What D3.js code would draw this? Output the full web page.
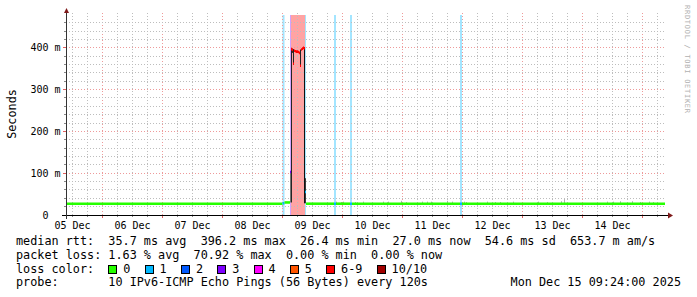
<!DOCTYPE html>
<html>
<head>
<meta charset="utf-8">
<script src="https://cdn.jsdelivr.net/npm/d3@7"></script>
<style>
  body { margin: 0; background: #fff; }
  svg { display: block; }
  text { font-family: 'DejaVu Sans Mono', monospace; white-space: pre; }
</style>
</head>
<body>
<div id="graphic"></div>
<script>
// Time window of the graph
const timeRange = ["2025-12-05 09:24", "2025-12-15 09:24"];

// Median rtt steps: each value holds until the next time (ms, lost pings out of 10)
const rttTimes = [
    "2025-12-05 09:24", "2025-12-09 00:00", "2025-12-09 00:48", "2025-12-09 03:00",
    "2025-12-09 03:24", "2025-12-09 03:48", "2025-12-09 04:12", "2025-12-09 04:36",
    "2025-12-09 05:00", "2025-12-09 05:24", "2025-12-09 05:48", "2025-12-09 06:12",
    "2025-12-09 06:36", "2025-12-09 07:00", "2025-12-09 07:24", "2025-12-09 07:48",
    "2025-12-09 08:12", "2025-12-09 08:36", "2025-12-09 09:00", "2025-12-09 09:24",
    "2025-12-09 20:36", "2025-12-09 21:24", "2025-12-10 03:00", "2025-12-10 03:48",
    "2025-12-11 23:00", "2025-12-11 23:48", "2025-12-15 09:00"
];
const rttMedian = [27, 28, 30, 103, 397, 395, 362, 393, 392, 391, 391, 390, 388, 357,
                   396, 398, 400, 399, 55, 27, 27, 27, 27, 27, 27, 27, 27];
const rttLoss   = [0, 1, 0, 3, 7, 7, 7, 7, 7, 7, 7, 7, 7, 7, 7, 7, 7, 7, 1, 0, 1, 0, 1, 0, 1, 0, 0];

// Smoke columns (24 min each): spread of the answered pings (ms)
const smokeTimes = [
    "2025-12-09 03:00", "2025-12-09 03:24", "2025-12-09 03:48", "2025-12-09 04:12",
    "2025-12-09 07:00", "2025-12-09 08:36", "2025-12-09 09:00",
    "2025-12-09 21:24", "2025-12-09 23:24", "2025-12-10 00:12", "2025-12-10 05:00",
    "2025-12-10 08:12", "2025-12-10 16:12", "2025-12-10 18:12", "2025-12-10 23:24",
    "2025-12-11 01:24", "2025-12-11 07:48", "2025-12-11 09:48", "2025-12-11 11:24",
    "2025-12-11 17:48", "2025-12-11 19:48", "2025-12-12 00:36", "2025-12-12 01:24",
    "2025-12-12 09:48", "2025-12-12 13:00", "2025-12-12 15:00", "2025-12-12 20:12",
    "2025-12-13 06:12", "2025-12-13 09:48", "2025-12-13 15:24", "2025-12-13 16:36",
    "2025-12-14 09:48", "2025-12-14 12:12", "2025-12-14 15:00", "2025-12-14 19:48",
    "2025-12-14 23:00", "2025-12-15 02:36", "2025-12-15 04:12"
];
const smokeLow  = [30, 30, 388, 360, 356, 28, 28,
                   26, 26, 26, 26, 26, 26, 26, 26, 26, 26, 26, 26, 26, 26, 26, 26,
                   26, 26, 26, 26, 26, 26, 26, 26, 26, 26, 26, 26, 26, 26, 26];
const smokeHigh = [103, 397, 398, 397, 396, 399, 88,
                   32, 31, 32, 31, 32, 32, 32, 34, 31, 32, 32, 32, 34, 32, 32, 31,
                   32, 31, 31, 32, 32, 31, 33, 38, 32, 32, 33, 33, 31, 32, 31];
const smokePings = [7, 3, 3, 3, 3, 2, 4,
                    10, 10, 10, 10, 10, 10, 10, 10, 10, 10, 10, 10, 10, 10, 10, 10,
                    10, 10, 10, 10, 10, 10, 10, 10, 10, 10, 10, 10, 10, 10, 10];

// Legend
const lossLabels = ["0", "1", "2", "3", "4", "5", "6-9", "10/10"];
const lossColors = ["#26ff00", "#00b8ff", "#0059ff", "#7e00ff", "#ff00ff", "#ff5500", "#ff0000", "#a10000"];
const rttStats  = ["35.7 ms avg", "396.2 ms max", "26.4 ms min", "27.0 ms now", "54.6 ms sd", "653.7 m am/s"];
const lossStats = ["1.63 % avg", "70.92 % max", "0.00 % min", "0.00 % now"];
const probeText = "10 IPv6-ICMP Echo Pings (56 Bytes) every 120s";
const stampText = "Mon Dec 15 09:24:00 2025";
const yTitle = "Seconds";
const watermark = "RRDTOOL / TOBI OETIKER";

(function(d3){

    let width = 697, height = 297;

    // Plot frame
    let left = 66, right = 666, bottom = 215, top = 14.4;

    let charW = 7.1;          // legend monospace advance
    let minorColor = '#bdbdbd', majorColor = '#ee9a9a';

    let parseTime = d3.timeParse('%Y-%m-%d %H:%M');

    let svg = d3.select('#graphic')
                .append('svg')
                .attr('width', width)
                .attr('height', height);

    svg.append('rect')
       .attr('width', width)
       .attr('height', height)
       .attr('fill', '#fff');

    let x = d3.scaleTime()
        .domain(timeRange.map(parseTime))
        .range([left, right]);

    let y = d3.scaleLinear()
        .domain([0, 0.48])
        .range([bottom, top]);

    function lossColor(n) {
        if(n <= 5) return lossColors[n];
        if(n < 10) return lossColors[6];
        return lossColors[7];
    }

    let rtt = rttTimes.map((t, i) => ({ t: parseTime(t), v: rttMedian[i] / 1000, loss: rttLoss[i] }));
    let smoke = smokeTimes.map((t, i) => ({
        t: parseTime(t), lo: smokeLow[i] / 1000, hi: smokeHigh[i] / 1000, pings: smokePings[i]
    }));

    function drawLossBands()
    {
        for(let i = 0; i < rtt.length - 1; i++) {
            if(rtt[i].loss === 0) continue;
            svg.append('rect')
               .attr('x', x(rtt[i].t))
               .attr('width', x(rtt[i + 1].t) - x(rtt[i].t))
               .attr('y', 15)
               .attr('height', bottom - 15)
               .attr('fill', lossColor(rtt[i].loss))
               .attr('fill-opacity', 0.36);
        }
    }

    function drawGrid()
    {
        let [t0, t1] = x.domain();
        let days = d3.timeDay.range(t0, t1).map(d => +d);

        // Vertical lines every 6 hours, midnight ones in red
        d3.timeHour.every(6).range(t0, t1).forEach(t => {
            let major = days.includes(+t);
            let px = Math.round(x(t) - 0.5) + 0.5;
            svg.append('line')
               .attr('x1', px).attr('x2', px)
               .attr('y1', 13).attr('y2', bottom)
               .attr('stroke', major ? majorColor : minorColor)
               .attr('stroke-dasharray', '1,2');
            svg.append('line')
               .attr('x1', px).attr('x2', px)
               .attr('y1', bottom).attr('y2', bottom + (major ? 3 : 2))
               .attr('stroke', major ? '#e06060' : '#888');
        });

        // Horizontal lines every 20 m, every 100 m in red
        let majors = y.ticks(5).map(v => Math.round(v * 1000));
        y.ticks(24).filter(v => v > 0 && v < 0.48).forEach(v => {
            let major = majors.includes(Math.round(v * 1000));
            let py = Math.floor(y(v)) + 0.5;
            svg.append('line')
               .attr('x1', left).attr('x2', right)
               .attr('y1', py).attr('y2', py)
               .attr('stroke', major ? majorColor : minorColor)
               .attr('stroke-dasharray', '1,2');
            svg.append('line')
               .attr('x1', left - (major ? 3 : 2)).attr('x2', left)
               .attr('y1', py).attr('y2', py)
               .attr('stroke', major ? '#e06060' : '#888');
        });
    }

    function drawSmoke()
    {
        let shade = d3.scaleLinear()
            .domain([2, 10])
            .range(['#111', '#b0b0b0']);

        smoke.forEach(s => {
            let x0 = x(s.t), x1 = x(d3.timeMinute.offset(s.t, 24));
            svg.append('rect')
               .attr('x', x0)
               .attr('width', x1 - x0)
               .attr('y', y(s.hi))
               .attr('height', y(s.lo) - y(s.hi))
               .attr('fill', shade(s.pings));
        });
    }

    function drawMedian()
    {
        for(let i = 0; i < rtt.length - 1; i++) {
            svg.append('line')
               .attr('x1', x(rtt[i].t))
               .attr('x2', x(rtt[i + 1].t))
               .attr('y1', y(rtt[i].v))
               .attr('y2', y(rtt[i].v))
               .attr('stroke', lossColor(rtt[i].loss))
               .attr('stroke-width', 2.6);
        }
    }

    function drawAxes()
    {
        // x axis with arrow
        svg.append('line')
           .attr('x1', left - 4).attr('x2', right + 3)
           .attr('y1', bottom + 0.5).attr('y2', bottom + 0.5)
           .attr('stroke', '#000');
        svg.append('path')
           .attr('d', `M${right + 2},${bottom - 2.5}L${right + 7},${bottom + 0.5}L${right + 2},${bottom + 3.5}Z`)
           .attr('fill', '#7f1a1a');

        // y axis with arrow
        svg.append('line')
           .attr('x1', left + 0.5).attr('x2', left + 0.5)
           .attr('y1', bottom + 4).attr('y2', 12)
           .attr('stroke', '#333');
        svg.append('path')
           .attr('d', `M${left - 2},${13}L${left + 0.5},${8}L${left + 3},${13}Z`)
           .attr('fill', '#7f1a1a');

        // Day labels centered at noon
        let [t0, t1] = x.domain();
        let fmt = d3.timeFormat('%d %b');
        d3.timeDay.range(d3.timeDay.floor(t0), t1)
            .map(d => d3.timeHour.offset(d, 12))
            .filter(t => t >= t0 && t <= t1)
            .forEach(t => {
                svg.append('text')
                   .attr('x', x(t))
                   .attr('y', 228.5)
                   .attr('text-anchor', 'middle')
                   .style('font-size', '10px')
                   .text(fmt(d3.timeHour.offset(t, -12)));
            });

        // Value labels
        y.ticks(5).forEach(v => {
            svg.append('text')
               .attr('x', 60.5)
               .attr('y', y(v) + 3.6)
               .attr('text-anchor', 'end')
               .style('font-size', '10px')
               .text(v === 0 ? '0  ' : `${Math.round(v * 1000)} m`);
        });

        svg.append('text')
           .attr('transform', `translate(15.5, 114) rotate(-90)`)
           .attr('text-anchor', 'middle')
           .style('font-size', '11.8px')
           .text(yTitle);

        svg.append('text')
           .attr('transform', `translate(684.5, 5) rotate(90)`)
           .attr('fill', '#b0b0b0')
           .attr('textLength', 108)
           .style('font-size', '7px')
           .text(watermark);
    }

    function drawLegend()
    {
        let lx = 16;
        let lines = [245, 258.8, 272.6, 286.4];

        let legendText = (px, py, str) => svg.append('text')
            .attr('x', px)
            .attr('y', py)
            .style('font-size', '11.8px')
            .text(str);

        legendText(lx, lines[0], 'median rtt:  ' + rttStats.join('  '));
        legendText(lx, lines[1], 'packet loss: ' + lossStats.join('  '));
        legendText(lx, lines[2], 'loss color:');

        let sx = lx + 13 * charW;
        lossLabels.forEach((label, i) => {
            svg.append('rect')
               .attr('x', Math.round(sx) + 0.5)
               .attr('y', 265.5)
               .attr('width', 8)
               .attr('height', 8)
               .attr('fill', lossColors[i])
               .attr('stroke', '#000');
            legendText(sx + 15, lines[2], label);
            sx += 15 + (label.length + 2) * charW;
        });

        legendText(lx, lines[3], 'probe:       ' + probeText);
        legendText(681, lines[3], stampText).attr('text-anchor', 'end');
    }

    drawLossBands();
    drawGrid();
    drawSmoke();
    drawMedian();
    drawAxes();
    drawLegend();

})(window.d3);
</script>
</body>
</html>
